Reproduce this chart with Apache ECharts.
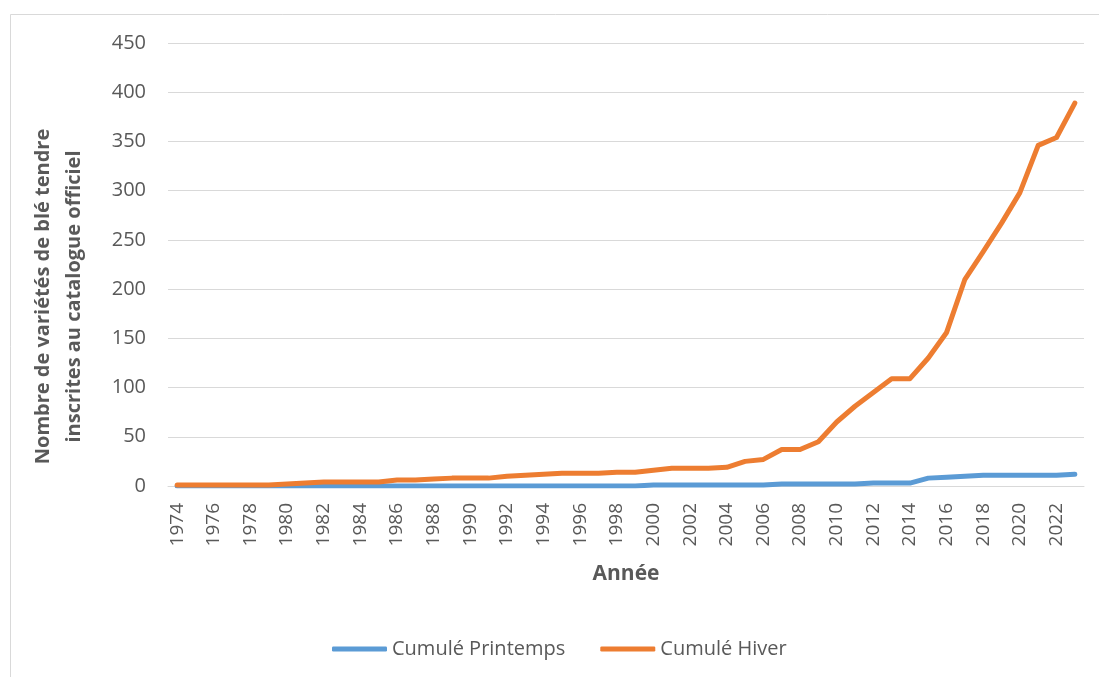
<!DOCTYPE html>
<html>
<head>
<meta charset="utf-8">
<script src="https://cdn.jsdelivr.net/npm/echarts@6/dist/echarts.min.js"></script>
<style>
    html, body { margin: 0; padding: 0; background: #fff; }
    #main { width: 1099px; height: 677px; }
</style>
</head>
<body>
<div id="main"></div>
<script>
var years = [];
for (var y = 1974; y <= 2023; y++) { years.push(String(y)); }

var printemps = [0, 0, 0, 0, 0, 0, 0, 0, 0, 0,
                 0, 0, 0, 0, 0, 0, 0, 0, 0, 0,
                 0, 0, 0, 0, 0, 0, 1, 1, 1, 1,
                 1, 1, 1, 2, 2, 2, 2, 2, 3, 3,
                 3, 8, 9, 10, 11, 11, 11, 11, 11, 12];

var hiver = [1, 1, 1, 1, 1, 1, 2, 3, 4, 4,
             4, 4, 6, 6, 7, 8, 8, 8, 10, 11,
             12, 13, 13, 13, 14, 14, 16, 18, 18, 18,
             19, 25, 27, 37, 37, 45, 65, 81, 95, 109,
             109, 130, 156, 210, 238, 267, 298, 346, 354, 389];

var yTicks = { min: 0, max: 450, interval: 50 };

var dom = document.getElementById('main');
var myChart = echarts.init(dom);
var option = null;

option = {
    backgroundColor: '#ffffff',
    animation: false,
    textStyle: {
        fontFamily: 'Open Sans'
    },
    graphic: [{
        type: 'rect',
        shape: { x: 10.5, y: 14.5, width: 1200, height: 800 },
        style: { fill: 'none', stroke: '#d9d9d9', lineWidth: 1 },
        silent: true
    }],
    legend: {
        data: ['Cumulé Printemps', 'Cumulé Hiver'],
        left: 327,
        top: 634,
        icon: 'roundRect',
        itemWidth: 55,
        itemHeight: 5,
        itemGap: 35,
        textStyle: {
            fontSize: 20,
            color: '#595959'
        }
    },
    grid: {
        left: 168,
        right: 15,
        top: 43,
        bottom: 191
    },
    xAxis: {
        type: 'category',
        boundaryGap: true,
        data: years,
        name: 'Année',
        nameLocation: 'middle',
        nameGap: 78,
        nameTextStyle: {
            fontSize: 21,
            fontWeight: 'bold',
            color: '#595959'
        },
        axisLine: { lineStyle: { color: '#d9d9d9', width: 1 } },
        axisTick: { show: false },
        axisLabel: {
            interval: 1,
            rotate: 90,
            margin: 17,
            fontSize: 19,
            color: '#595959'
        }
    },
    yAxis: {
        type: 'value',
        min: yTicks.min,
        max: yTicks.max,
        interval: yTicks.interval,
        name: 'Nombre de variétés de blé tendre\ninscrites au catalogue officiel',
        nameLocation: 'middle',
        nameRotate: 90,
        nameGap: 78,
        nameTextStyle: {
            fontSize: 20,
            fontWeight: 'bold',
            color: '#595959',
            lineHeight: 31,
            padding: [0, 64, 0, 0]
        },
        axisLine: { show: false },
        axisTick: { show: false },
        axisLabel: {
            margin: 22,
            fontSize: 20,
            color: '#595959'
        },
        splitLine: { lineStyle: { color: '#d9d9d9', width: 1 } }
    },
    series: [
        {
            name: 'Cumulé Printemps',
            type: 'line',
            data: printemps,
            symbol: 'none',
            smooth: false,
            lineStyle: { color: '#5b9bd5', width: 5, cap: 'round', join: 'round' },
            itemStyle: { color: '#5b9bd5' }
        },
        {
            name: 'Cumulé Hiver',
            type: 'line',
            data: hiver,
            symbol: 'none',
            smooth: false,
            lineStyle: { color: '#ed7d31', width: 5, cap: 'round', join: 'round' },
            itemStyle: { color: '#ed7d31' }
        }
    ]
};
if (option && typeof option === "object") {
    myChart.setOption(option, true);
}
</script>
</body>
</html>
